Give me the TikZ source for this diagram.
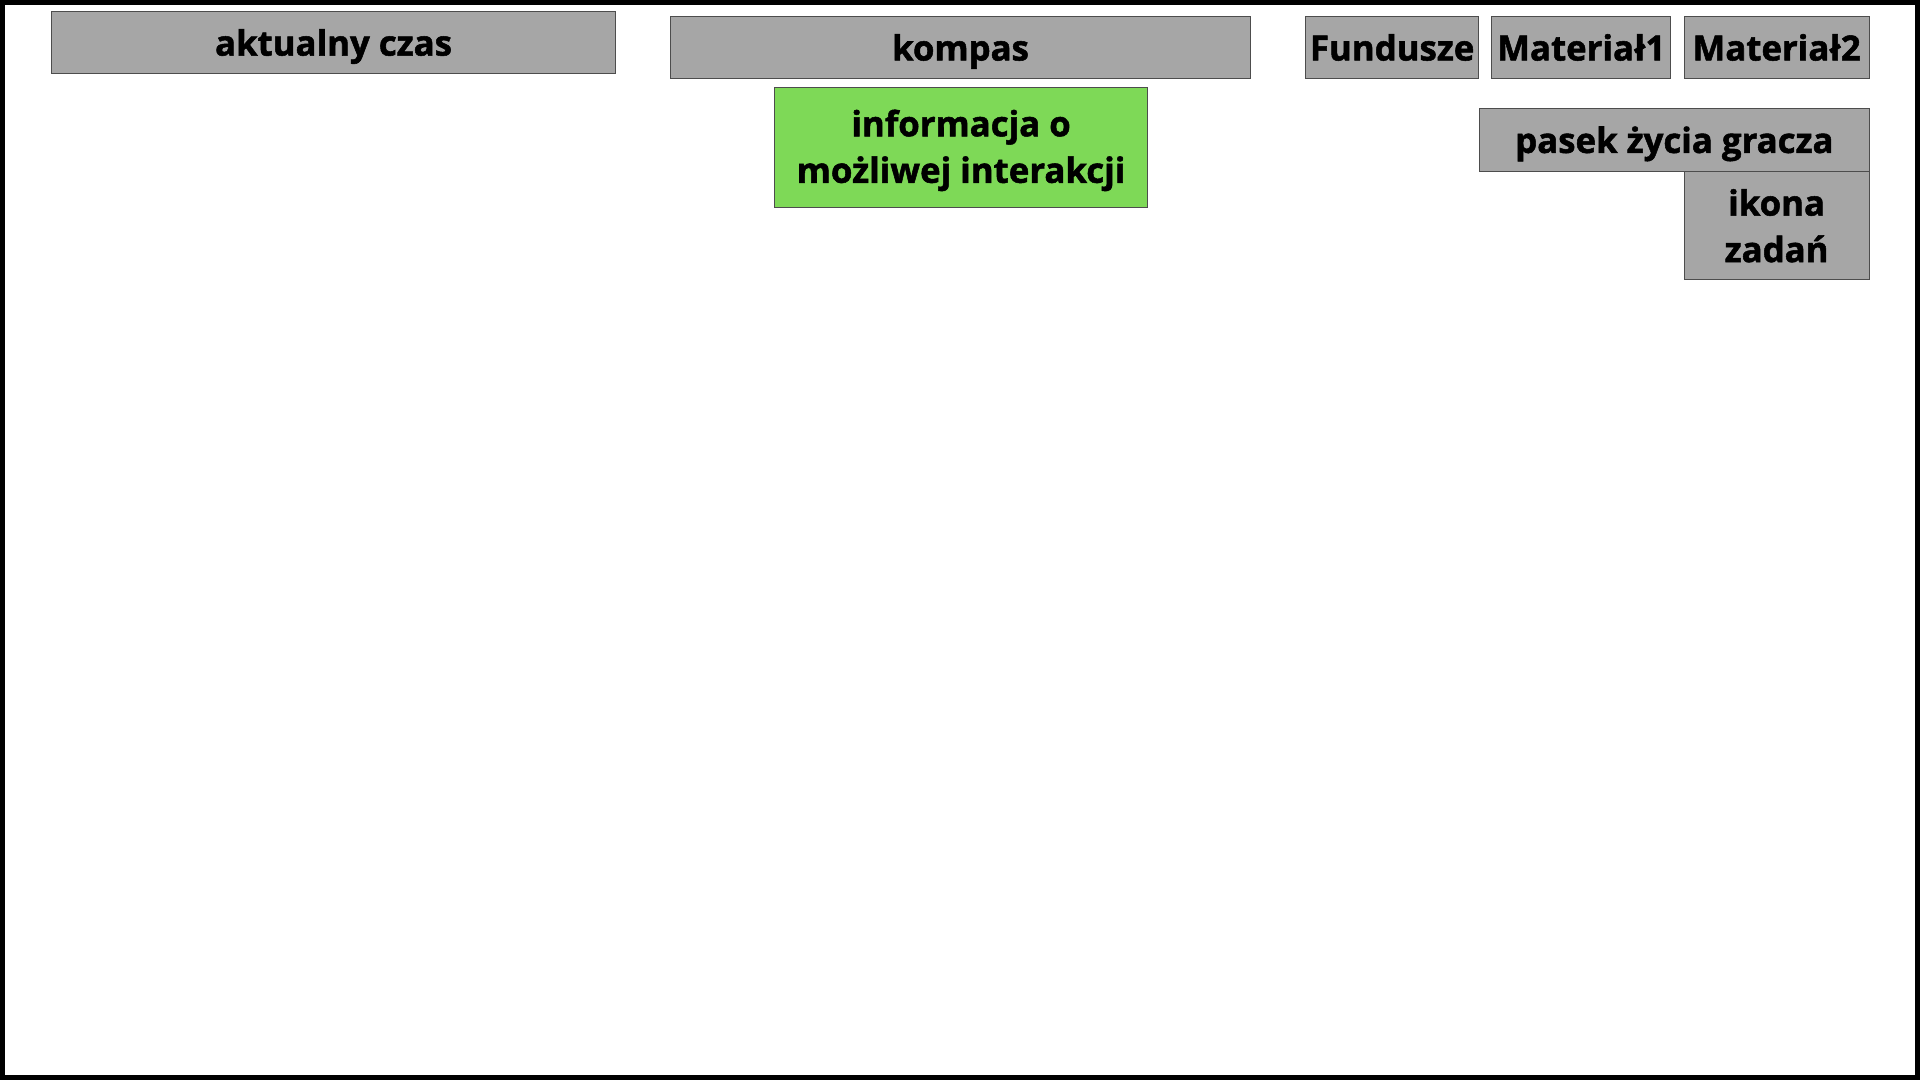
\documentclass[tikz,border=0pt]{standalone}
\usepackage{fontspec}
\setmainfont{Open Sans}[BoldFeatures={FakeBold=1.5}]
\usepackage{tikz}

\definecolor{hudgray}{HTML}{A6A6A6}
\definecolor{hudgreen}{HTML}{7ED957}
\definecolor{hudline}{HTML}{4D4D4D}

\tikzset{
  hudbox/.style={draw=hudline, fill=hudgray, line width=0.8pt, inner sep=0pt,
    anchor=north west, align=center, font=\fontsize{28.4}{38}\selectfont\bfseries},
  hudone/.style={hudbox, text height=28pt, text depth=7pt},
  hudinfo/.style={hudbox, fill=hudgreen}
}

\begin{document}
\begin{tikzpicture}[x=1pt,y=-1pt]
% \draw (0,0) grid (1568,882);
\useasboundingbox (0,0) rectangle (1568,882);
\coordinate (Czas) at (42,9);
\coordinate (Kompas) at (547,13);
\coordinate (Info) at (632,71);
\coordinate (Fund) at (1066,13);
\coordinate (MatA) at (1218,13);
\coordinate (MatB) at (1375,13);
\coordinate (Pasek) at (1208,88);
\coordinate (Zad) at (1375,140);
\draw[line width=4pt] (2,2) rectangle (1566,880);
\node[hudone, minimum width=460pt, minimum height=51pt] (czas) at (Czas) {aktualny czas};
\node[hudone, minimum width=474pt, minimum height=51pt] (kompas) at (Kompas) {kompas};
\node[hudinfo, minimum width=305pt, minimum height=98pt] (info) at (Info) {\strut informacja o\\możliwej interakcji};
\node[hudone, minimum width=141pt, minimum height=51pt] (fundusze) at (Fund) {Fundusze};
\node[hudone, minimum width=146pt, minimum height=51pt] (mat1) at (MatA) {Materiał1};
\node[hudone, minimum width=151pt, minimum height=51pt] (mat2) at (MatB) {Materiał2};
\node[hudone, minimum width=318pt, minimum height=52pt] (pasek) at (Pasek) {pasek życia gracza};
\node[hudbox, minimum width=151pt, minimum height=88pt] (zadania) at (Zad) {ikona\\zadań};
\end{tikzpicture}
\end{document}
